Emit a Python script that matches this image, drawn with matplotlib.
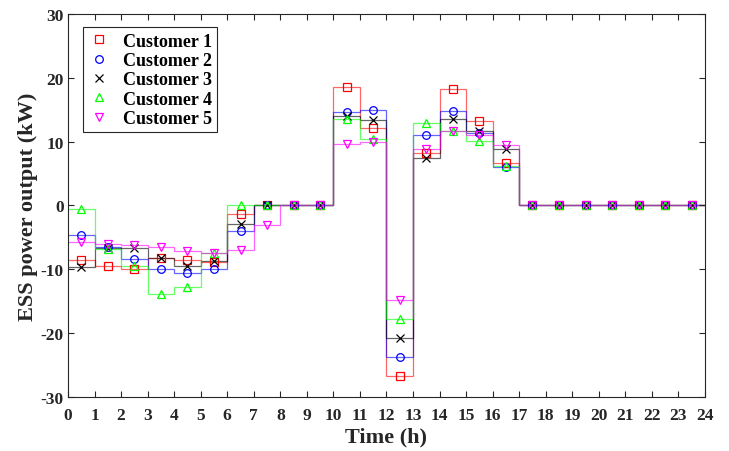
import numpy as np
import matplotlib
matplotlib.use("Agg")
import matplotlib.pyplot as plt

hours = np.arange(24)
customers = ["Customer 1", "Customer 2", "Customer 3", "Customer 4", "Customer 5"]

c1 = [-8.6, -9.45, -10.0, -8.3, -8.5, -8.8, -1.4, 0, 0, 0, 18.5, 12.2, -26.7, 8.15, 18.2, 13.3, 6.7, 0, 0, 0, 0, 0, 0, 0]
c2 = [-4.65, -6.5, -8.4, -10.0, -10.5, -9.9, -4.0, 0, 0, 0, 14.7, 15.0, -23.8, 11.1, 14.8, 11.3, 6.05, 0, 0, 0, 0, 0, 0, 0]
c3 = [-9.6, -6.6, -6.6, -8.2, -9.45, -8.7, -2.9, 0, 0, 0, 14.05, 13.4, -20.8, 7.4, 13.6, 11.65, 8.9, 0, 0, 0, 0, 0, 0, 0]
c4 = [-0.58, -6.8, -9.45, -13.8, -12.8, -7.4, 0.1, 0, 0, 0, 13.5, 10.4, -17.8, 12.95, 11.65, 10.1, 6.2, 0, 0, 0, 0, 0, 0, 0]
c5 = [-5.7, -6.0, -6.2, -6.5, -7.2, -7.5, -7.0, -3.0, 0, 0, 9.56, 10.0, -14.8, 8.9, 11.65, 11.0, 9.45, 0, 0, 0, 0, 0, 0, 0]
series = [c1, c2, c3, c4, c5]

colors = ["#ff0000", "#0000ff", "#000000", "#00ff00", "#ff00ff"]
markers = ["s", "o", "x", "^", "v"]

plt.rcParams["font.family"] = ["Liberation Serif", "DejaVu Serif"]
plt.rcParams["font.weight"] = "bold"
plt.rcParams["axes.unicode_minus"] = False

fig = plt.figure(figsize=(7.29, 4.52), dpi=100)
ax = fig.add_axes([0.0933, 0.1195, 0.8737, 0.8473])

edges = np.arange(25)
handles = []
for vals, col, mk, name in zip(series, colors, markers, customers):
    ax.stairs(vals, edges, color=col, lw=0.9, alpha=0.6, baseline=None)
    h, = ax.plot(hours + 0.5, vals, ls="none", marker=mk, mfc="none", mec=col,
                 ms=5.5, mew=0.9, label=name)
    handles.append(h)

ax.set_xlim(0, 24)
ax.set_ylim(-30, 30)
ax.set_xticks(np.arange(0, 25, 1))
ax.set_yticks(np.arange(-30, 31, 10))
ax.tick_params(direction="in", length=4, width=0.8, labelsize=12.5, colors="#262626",
               top=True, right=True)
ax.tick_params(axis="x", pad=7)
ax.tick_params(axis="y", pad=3)
for lab in ax.get_xticklabels() + ax.get_yticklabels():
    lab.set_fontweight("bold")
    lab.set_color("#262626")
for sp in ax.spines.values():
    sp.set_color("#262626")
    sp.set_linewidth(0.8)

ax.set_xlabel("Time (h)", fontsize=16, fontweight="bold", labelpad=3, color="#262626")
ax.set_ylabel("ESS power output (kW)", fontsize=16, fontweight="bold", labelpad=2, color="#262626")

leg = ax.legend(handles=handles, loc="upper left", bbox_to_anchor=(0.0235, 0.9655),
                fancybox=False, framealpha=1, edgecolor="#262626",
                prop={"weight": "bold", "size": 13}, handlelength=1.2,
                handletextpad=0.7, labelspacing=0.13, borderpad=0.3,
                borderaxespad=0)
leg.get_frame().set_linewidth(0.8)

fig.savefig("out.png", dpi=100)
